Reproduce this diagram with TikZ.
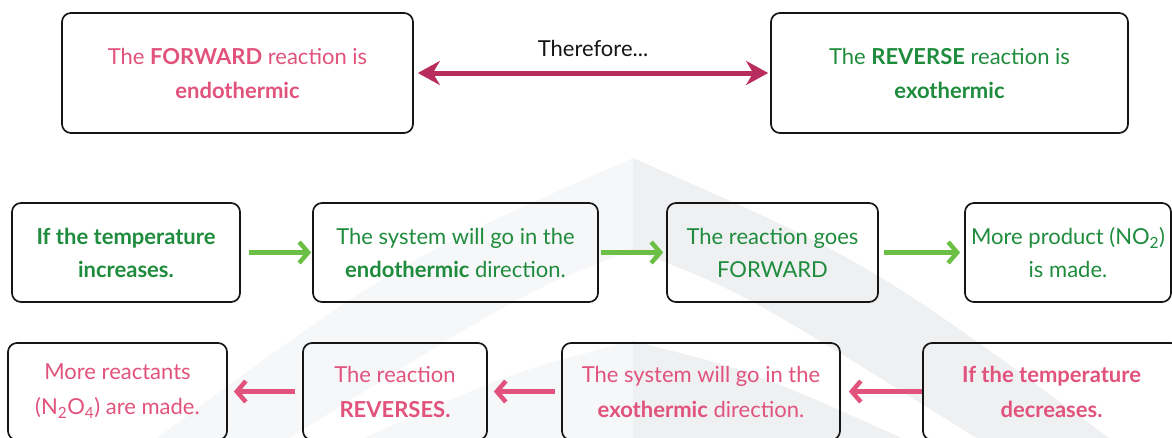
\documentclass[tikz,border=0pt]{standalone}
\usepackage{fontspec}
\setmainfont{Lato}
\usetikzlibrary{arrows.meta}

\definecolor{rose}{HTML}{E1527C}
\definecolor{leaf}{HTML}{1E8C3C}
\definecolor{lime}{HTML}{6CBF45}
\definecolor{plum}{HTML}{B82D5E}
\definecolor{inkline}{HTML}{151515}
\definecolor{wmlight}{HTML}{F6F7F9}
\definecolor{wmdark}{HTML}{EFF0F2}

\begin{document}
\begin{tikzpicture}[x=1pt,y=-1pt,
  box/.style={draw=inkline, line width=1.7pt, rounded corners=9pt,
    align=center, inner sep=0pt, font=\fontsize{22}{34}\selectfont},
  toprow/.style={box, minimum height=120pt},
  midrow/.style={box, minimum height=99pt, font=\fontsize{22}{33}\selectfont},
  lowrow/.style={box, minimum height=97pt, font=\fontsize{22}{35}\selectfont},
  fwd/.style={draw=lime, line width=4.5pt,
    -{Straight Barb[length=9pt,width=21pt]}},
  rev/.style={draw=rose, line width=4.5pt,
    -{Straight Barb[length=9pt,width=21pt]}},
  both/.style={draw=plum, line width=5pt,
    {Stealth[length=22pt,width=24pt,inset=7pt]}-{Stealth[length=22pt,width=24pt,inset=7pt]}}
]
\useasboundingbox (0,0) rectangle (1172,437);
\clip (0,0) rectangle (1172,437);

% faint arch-shaped logo in the background, left half lighter than right
\foreach \side/\shade in {0/wmlight, 633/wmdark}{
  \begin{scope}
    \clip (\side,0) rectangle (\side+633,437);
    \fill[\shade] (633,158) .. controls (870,262) .. (1120,446)
      -- (146,446) .. controls (396,262) .. cycle;
    \fill[white] (633,250) .. controls (743,292) .. (1000,453)
      -- (266,453) .. controls (523,292) .. cycle;
    \fill[\shade] (633,341) .. controls (756,372) .. (950,460)
      -- (316,460) .. controls (510,372) .. cycle;
  \end{scope}
}

% top statements
\node[toprow, minimum width=351pt, text=rose] (fwdbox) at (237.5,73)
  {The \textbf{FORWARD} reaction is\\ \textbf{endothermic}};
\node[toprow, minimum width=357pt, text=leaf] (revbox) at (949.5,73)
  {The \textbf{REVERSE} reaction is\\ \textbf{exothermic}};
\draw[both, shorten <=4pt, shorten >=2pt] (fwdbox.east) -- (revbox.west);
\node[font=\fontsize{22}{26}\selectfont, text=inkline] (therefore) at (593,48) {Therefore...};

% temperature increase chain
\node[midrow, minimum width=228pt, text=leaf] (up1) at (126,252.5)
  {\textbf{If the temperature}\\ \textbf{increases.}};
\node[midrow, minimum width=285pt, text=leaf] (up2) at (455.5,252.5)
  {The system will go in the\\ \textbf{endothermic} direction.};
\node[midrow, minimum width=211pt, text=leaf] (up3) at (772.5,252.5)
  {The reaction goes\\ FORWARD};
\node[midrow, minimum width=206pt, text=leaf] (up4) at (1068,252.5)
  {More product (NO\textsubscript{2})\\ is made.};
\draw[fwd, shorten <=8pt, shorten >=1pt] (up1.east) -- (up2.west);
\draw[fwd, shorten <=2pt, shorten >=3pt] (up2.east) -- (up3.west);
\draw[fwd, shorten <=5pt, shorten >=4pt] (up3.east) -- (up4.west);

% temperature decrease chain
\node[lowrow, minimum width=257pt, text=rose] (dn1) at (1051.5,391.5)
  {\textbf{If the temperature}\\ \textbf{decreases.}};
\node[lowrow, minimum width=278pt, text=rose] (dn2) at (701,391.5)
  {The system will go in the\\ \textbf{exothermic} direction.};
\node[lowrow, minimum width=184pt, text=rose] (dn3) at (395,391.5)
  {The reaction\\ \textbf{REVERSES.}};
\node[lowrow, minimum width=219pt, text=rose] (dn4) at (117.5,391.5)
  {More reactants\\ (N\textsubscript{2}O\textsubscript{4}) are made.};
\draw[rev, shorten <=0pt, shorten >=8pt] (dn1.west) -- (dn2.east);
\draw[rev, shorten <=6pt, shorten >=6pt] (dn2.west) -- (dn3.east);
\draw[rev, shorten <=7pt, shorten >=6pt] (dn3.west) -- (dn4.east);
\end{tikzpicture}
\end{document}
